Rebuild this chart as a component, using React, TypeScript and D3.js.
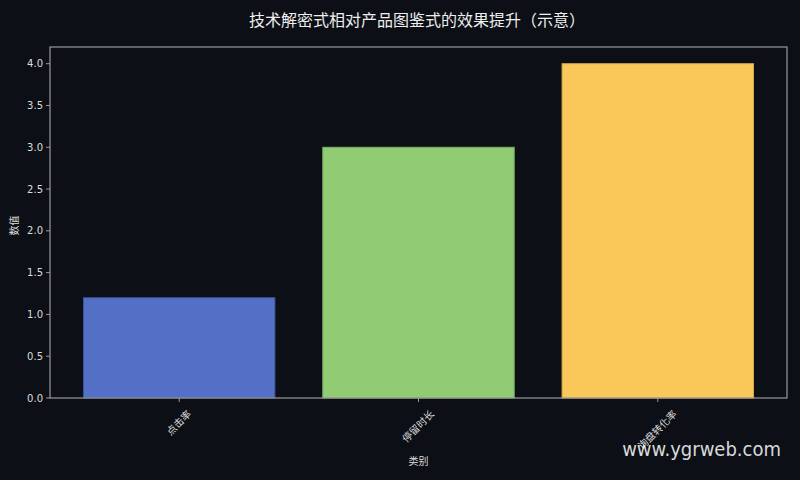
import React from "react";
import * as d3 from "d3";

const categories = ["点击率", "停留时长", "询盘转化率"];
const values = [1.2, 3.0, 4.0];
const colors = ["#5470c6", "#91cc75", "#fac858"];
const edgeColors = ["#3d5296", "#7aad62", "#d4a94a"];
const yTicks = [0, 0.5, 1.0, 1.5, 2.0, 2.5, 3.0, 3.5, 4.0];

const W = 800, H = 480;
const M = { left: 50, right: 787, top: 47, bottom: 398 };
const font = "'DejaVu Sans', 'Noto Sans CJK SC', sans-serif";
const cjk = "'Noto Sans CJK TC', 'Noto Sans CJK SC', sans-serif";

export default function App() {
  const x = d3.scaleLinear().domain([-0.54, categories.length - 1 + 0.54]).range([M.left, M.right]);
  const y = d3.scaleLinear().domain([0, 4.2]).range([M.bottom, M.top]);
  const bw = x(0.8) - x(0);
  const fs = 10;
  return (
    <svg width={W} height={H} style={{ position: "absolute", left: 0, top: 0, background: "#0c0f15" }}>
      <rect x={0} y={0} width={W} height={H} fill="#0c0f15" />
      <text x={417} y={26} textAnchor="middle" fill="#eeeeee" fontSize={16} fontFamily={cjk}>
        技术解密式相对产品图鉴式的效果提升（示意）
      </text>
      {values.map((v, i) => (
        <rect key={i} x={x(i) - bw / 2} y={y(v)} width={bw} height={y(0) - y(v)}
          fill={colors[i]} stroke={edgeColors[i]} strokeWidth={1} />
      ))}
      <rect x={M.left} y={M.top} width={M.right - M.left} height={M.bottom - M.top}
        fill="none" stroke="#9a9a9a" strokeWidth={1.2} />
      {yTicks.map((t) => (
        <g key={t}>
          <line x1={M.left - 4} x2={M.left} y1={y(t)} y2={y(t)} stroke="#9a9a9a" />
          <text x={M.left - 7} y={y(t) + 3.5} textAnchor="end" fill="#dddddd" fontSize={10} fontFamily={font}>
            {t.toFixed(1)}
          </text>
        </g>
      ))}
      {categories.map((c, i) => {
        const L = c.length * fs;
        const half = ((L + fs) * 0.707) / 2;
        return (
          <g key={c}>
            <line x1={x(i)} x2={x(i)} y1={M.bottom} y2={M.bottom + 4} stroke="#9a9a9a" />
            <text transform={`translate(${x(i) - 1},${M.bottom + 10 + half}) rotate(-45)`} textAnchor="middle"
              dominantBaseline="central" fill="#dddddd" fontSize={fs} fontFamily={cjk}>
              {c}
            </text>
          </g>
        );
      })}
      <text x={(M.left + M.right) / 2} y={465} textAnchor="middle" fill="#dddddd" fontSize={10} fontFamily={cjk}>类别</text>
      <text transform={`translate(18,${(M.top + M.bottom) / 2 + 3}) rotate(-90)`} textAnchor="middle"
        fill="#dddddd" fontSize={10} fontFamily={cjk}>数值</text>
      <text x={781} y={456} textAnchor="end" fill="rgba(255,255,255,0.85)" fontSize={20}
        fontFamily="'DejaVu Sans Condensed', 'DejaVu Sans', sans-serif" style={{ fontStretch: "condensed" }}>
        www.ygrweb.com
      </text>
    </svg>
  );
}
